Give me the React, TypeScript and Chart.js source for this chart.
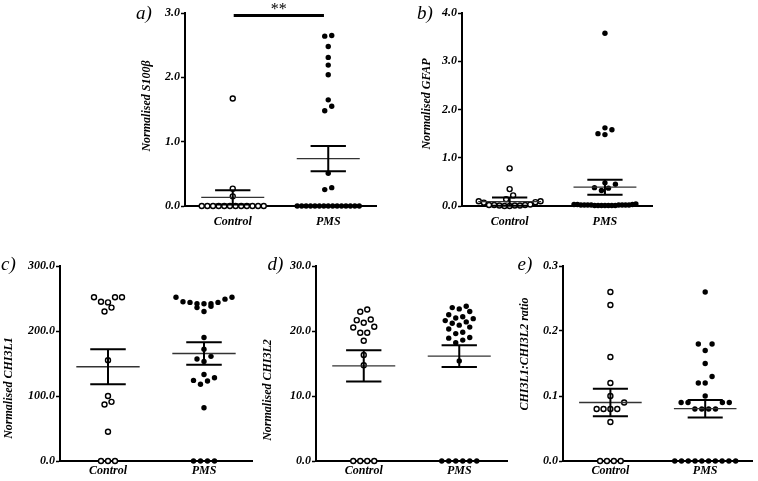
import React, { useEffect, useRef } from 'react';
import { Chart, registerables } from 'chart.js';

Chart.register(...registerables);

// ---------------- data ----------------
const categories = ['Control', 'PMS'];

// a) S100β
const s100bControl = [0, 0, 0, 0, 0, 0, 0, 0, 0, 0, 0, 0, 0.15, 0.27, 1.67];
const s100bPMS = [0, 0, 0, 0, 0, 0, 0, 0, 0, 0, 0, 0, 0, 0, 0, 0.255, 0.285, 0.51, 1.48, 1.55, 1.65, 2.04, 2.19, 2.31, 2.48, 2.64, 2.65];
const s100bMean = [0.135, 0.737];
const s100bSEM = [0.11, 0.197];
const s100bTicks = [0, 1, 2, 3];

// b) GFAP
const gfapControl = [0.01, 0.02, 0, 0.02, 0.01, 0.03, 0, 0.02, 0.01, 0.07, 0.08, 0.1, 0.1, 0.14, 0.22, 0.35, 0.78];
const gfapPMS = [0.03, 0.02, 0.02, 0.01, 0.02, 0.01, 0.01, 0.02, 0.03, 0.01, 0.02, 0.01, 0.02, 0.01, 0.03, 0.02, 0.01, 0.02, 0.04, 0.32, 0.37, 0.38, 0.45, 0.48, 1.48, 1.5, 1.58, 1.62, 3.58];
const gfapMean = [0.09, 0.39];
const gfapSEM = [0.085, 0.155];
const gfapTicks = [0, 1, 2, 3, 4];

// c) CHI3L1
const chi3l1Control = [0, 0, 0, 45, 87, 91, 100, 155, 230, 236, 244, 245, 252, 252, 252];
const chi3l1PMS = [0, 0, 0, 0, 82, 118, 123, 124, 128, 133, 153, 157, 161, 172, 190, 230, 236, 238, 242, 242, 242, 244, 244, 245, 249, 252, 252];
const chi3l1Mean = [145, 165.4];
const chi3l1SEM = [27, 17.2];
const chi3l1Ticks = [0, 100, 200, 300];

// d) CHI3L2
const chi3l2Control = [0, 0, 0, 0, 14.74, 16.3, 18.49, 19.72, 19.72, 20.55, 20.65, 21.26, 21.67, 21.78, 22.96, 23.3];
const chi3l2PMS = [0, 0, 0, 0, 0, 0, 15.4, 18.2, 18.6, 18.9, 19.0, 19.6, 19.8, 20.3, 20.6, 20.9, 21.2, 21.4, 21.6, 21.9, 22.0, 22.2, 22.5, 23.0, 23.4, 23.6, 23.8];
const chi3l2Mean = [14.65, 16.15];
const chi3l2SEM = [2.4, 1.67];
const chi3l2Ticks = [0, 10, 20, 30];

// e) CHI3L1:CHI3L2 ratio
const ratioControl = [0, 0, 0, 0, 0.06, 0.08, 0.08, 0.08, 0.08, 0.09, 0.1, 0.12, 0.16, 0.24, 0.26];
const ratioPMS = [0, 0, 0, 0, 0, 0, 0, 0, 0, 0, 0.08, 0.08, 0.08, 0.08, 0.09, 0.09, 0.09, 0.09, 0.1, 0.12, 0.12, 0.13, 0.15, 0.17, 0.18, 0.18, 0.26];
const ratioMean = [0.09, 0.0805];
const ratioSEM = [0.021, 0.0135];
const ratioTicks = [0, 0.1, 0.2, 0.3];

// significance annotation (panel a)
const sigFrom = 1.01;
const sigTo = 1.955;
const sigLevel = 2.96;
const sigLabel = '**';

// ---------------- layout / style ----------------
const FONT = '"Liberation Serif", "Times New Roman", serif';
const ROW_H = 6.6; // px: points closer than this vertically share a row
const ROW_W = 62; // px: max row width
const MAX_GAP = 7; // px: max horizontal gap between row members
const MEAN_HW = 0.33; // x units
const CAP_HW = 0.185; // x units

type Panel = {
  key: string;
  letter: string;
  title: string;
  control: number[];
  pms: number[];
  mean: number[];
  sem: number[];
  ticks: number[];
  box: { x: number; y: number; w: number; h: number };
  area: { L: number; T: number; R: number; B: number };
  xPad: number;
  letterOff: [number, number];
  titleOff: [number, number];
  sig?: boolean;
};

const panels: Panel[] = [
  {
    key: 'a', letter: 'a)', title: 'Normalised S100β',
    control: s100bControl, pms: s100bPMS, mean: s100bMean, sem: s100bSEM, ticks: s100bTicks,
    box: { x: 120, y: 0, w: 275, h: 235 }, area: { L: 185, T: 13, R: 376, B: 206 },
    xPad: 9, letterOff: [-41, 1], titleOff: [-38, 93], sig: true,
  },
  {
    key: 'b', letter: 'b)', title: 'Normalised GFAP',
    control: gfapControl, pms: gfapPMS, mean: gfapMean, sem: gfapSEM, ticks: gfapTicks,
    box: { x: 395, y: 0, w: 263, h: 235 }, area: { L: 462, T: 13, R: 653, B: 206 },
    xPad: 9, letterOff: [-37, 1], titleOff: [-35.5, 91],
  },
  {
    key: 'c', letter: 'c)', title: 'Normalised CHI3L1',
    control: chi3l1Control, pms: chi3l1PMS, mean: chi3l1Mean, sem: chi3l1SEM, ticks: chi3l1Ticks,
    box: { x: 0, y: 245, w: 258, h: 236 }, area: { L: 60, T: 266, R: 252, B: 461 },
    xPad: 3, letterOff: [-51.5, -1], titleOff: [-51.5, 122],
  },
  {
    key: 'd', letter: 'd)', title: 'Normalised CHI3L2',
    control: chi3l2Control, pms: chi3l2PMS, mean: chi3l2Mean, sem: chi3l2SEM, ticks: chi3l2Ticks,
    box: { x: 258, y: 245, w: 255, h: 236 }, area: { L: 316, T: 266, R: 507, B: 461 },
    xPad: 3, letterOff: [-40.5, -1], titleOff: [-48.5, 124],
  },
  {
    key: 'e', letter: 'e)', title: 'CHI3L1:CHI3L2 ratio',
    control: ratioControl, pms: ratioPMS, mean: ratioMean, sem: ratioSEM, ticks: ratioTicks,
    box: { x: 513, y: 245, w: 245, h: 236 }, area: { L: 563, T: 266, R: 756, B: 461 },
    xPad: 3, letterOff: [-38, -1], titleOff: [-38, 88],
  },
];

const Y_AXIS_W = 40;

// Prism-like column scatter: rows of nearby values spread horizontally
function columnPoints(values: number[], group: number, chart: any) {
  const xs = chart.scales.x;
  const ys = chart.scales.y;
  const cx = xs.getPixelForValue(group);
  const pts = values.map((v) => ({ v, py: ys.getPixelForValue(v) })).sort((a, b) => a.v - b.v);
  const out: { x: number; y: number }[] = [];
  let i = 0;
  while (i < pts.length) {
    const row = [pts[i]];
    let j = i + 1;
    while (j < pts.length && pts[i].py - pts[j].py < ROW_H) {
      row.push(pts[j]);
      j++;
    }
    const k = row.length;
    const s = k > 1 ? Math.min(MAX_GAP, ROW_W / (k - 1)) : 0;
    const slots = Array.from({ length: k }, (_, m) => (m - (k - 1) / 2) * s).sort(
      (a, b) => Math.abs(a) - Math.abs(b) || a - b
    );
    row.forEach((p, m) => out.push({ x: xs.getValueForPixel(cx + slots[m]), y: p.v }));
    i = j;
  }
  return out;
}

function makeDecor(p: Panel) {
  return {
    id: 'decor_' + p.key,
    afterDatasetsDraw(chart: any) {
      const { ctx, chartArea, scales } = chart;
      const xs = scales.x;
      const ys = scales.y;
      ctx.save();
      // mean ± SEM
      [1, 2].forEach((g, gi) => {
        const m = p.mean[gi];
        const se = p.sem[gi];
        const xc = xs.getPixelForValue(g);
        const ym = ys.getPixelForValue(m);
        const yu = ys.getPixelForValue(m + se);
        const yl = ys.getPixelForValue(Math.max(0, m - se));
        ctx.lineCap = 'butt';
        ctx.strokeStyle = '#333';
        ctx.lineWidth = 1.3;
        ctx.beginPath();
        ctx.moveTo(xs.getPixelForValue(g - MEAN_HW), ym);
        ctx.lineTo(xs.getPixelForValue(g + MEAN_HW), ym);
        ctx.stroke();
        ctx.strokeStyle = '#000';
        ctx.lineWidth = 2;
        ctx.beginPath();
        ctx.moveTo(xc, yu);
        ctx.lineTo(xc, yl);
        ctx.moveTo(xs.getPixelForValue(g - CAP_HW), yu);
        ctx.lineTo(xs.getPixelForValue(g + CAP_HW), yu);
        ctx.moveTo(xs.getPixelForValue(g - CAP_HW), yl);
        ctx.lineTo(xs.getPixelForValue(g + CAP_HW), yl);
        ctx.stroke();
      });
      // significance bar
      if (p.sig) {
        const yb = ys.getPixelForValue(sigLevel);
        const x1 = xs.getPixelForValue(sigFrom);
        const x2 = xs.getPixelForValue(sigTo);
        ctx.strokeStyle = '#000';
        ctx.lineWidth = 3;
        ctx.beginPath();
        ctx.moveTo(x1, yb);
        ctx.lineTo(x2, yb);
        ctx.stroke();
        ctx.fillStyle = '#000';
        ctx.font = '16px ' + FONT;
        ctx.textAlign = 'center';
        ctx.textBaseline = 'alphabetic';
        ctx.fillText(sigLabel, (x1 + x2) / 2, yb - 2);
      }
      // panel letter
      ctx.fillStyle = '#000';
      ctx.font = 'italic 19px ' + FONT;
      ctx.textAlign = 'center';
      ctx.textBaseline = 'middle';
      ctx.fillText(p.letter, chartArea.left + p.letterOff[0], chartArea.top + p.letterOff[1]);
      // y title
      ctx.font = 'italic bold 12px ' + FONT;
      ctx.translate(chartArea.left + p.titleOff[0], chartArea.top + p.titleOff[1]);
      ctx.rotate(-Math.PI / 2);
      ctx.fillText(p.title, 0, 0);
      ctx.restore();
    },
  };
}

function PanelChart({ p }: { p: Panel }) {
  const ref = useRef<HTMLCanvasElement>(null);
  useEffect(() => {
    const canvas = ref.current!;
    const padL = p.area.L - p.box.x - Y_AXIS_W;
    const padT = p.area.T - p.box.y;
    const padR = p.box.x + p.box.w - p.area.R;
    const xH = p.box.y + p.box.h - p.area.B;
    const tickFont = { family: FONT, size: 12, style: 'italic' as const, weight: 'bold' as const };
    const chart = new Chart(canvas, {
      type: 'scatter',
      data: {
        datasets: [
          {
            label: categories[0],
            data: [],
            pointRadius: 2.5,
            pointBorderWidth: 1.4,
            pointBackgroundColor: '#fff',
            pointBorderColor: '#000',
            showLine: false,
            clip: false as any,
          },
          {
            label: categories[1],
            data: [],
            pointRadius: 2.7,
            pointBorderWidth: 0,
            pointBackgroundColor: '#000',
            pointBorderColor: '#000',
            showLine: false,
            clip: false as any,
          },
        ],
      },
      options: {
        animation: false,
        responsive: false,
        devicePixelRatio: 1,
        events: [],
        layout: { padding: { left: padL, top: padT, right: padR, bottom: 0 } },
        plugins: { legend: { display: false }, tooltip: { enabled: false }, title: { display: false } },
        scales: {
          x: {
            type: 'linear',
            min: 0.5,
            max: 2.5,
            afterBuildTicks: (s: any) => {
              s.ticks = [{ value: 1 }, { value: 2 }];
            },
            afterFit: (s: any) => {
              s.height = xH;
            },
            ticks: {
              callback: (v: any) => categories[Math.round(Number(v)) - 1] ?? '',
              font: tickFont,
              color: '#000',
              padding: p.xPad,
              maxRotation: 0,
              autoSkip: false,
            },
            grid: { display: false, drawTicks: false },
            border: { display: true, color: '#000', width: 2 },
          },
          y: {
            type: 'linear',
            min: p.ticks[0],
            max: p.ticks[p.ticks.length - 1],
            afterBuildTicks: (s: any) => {
              s.ticks = p.ticks.map((v) => ({ value: v }));
            },
            afterFit: (s: any) => {
              s.width = Y_AXIS_W;
            },
            ticks: {
              callback: (v: any) => Number(v).toFixed(1),
              font: tickFont,
              color: '#000',
              padding: 1,
              autoSkip: false,
            },
            grid: {
              display: true,
              drawOnChartArea: false,
              drawTicks: true,
              tickLength: 4,
              tickColor: '#000',
              tickWidth: 1.5,
              color: '#000',
            },
            border: { display: true, color: '#000', width: 2 },
          },
        },
      } as any,
      plugins: [makeDecor(p)],
    });
    chart.data.datasets[0].data = columnPoints(p.control, 1, chart) as any;
    chart.data.datasets[1].data = columnPoints(p.pms, 2, chart) as any;
    chart.update('none');
    return () => chart.destroy();
  }, [p]);
  return (
    <canvas
      ref={ref}
      width={p.box.w}
      height={p.box.h}
      style={{ position: 'absolute', left: p.box.x, top: p.box.y, width: p.box.w, height: p.box.h }}
    />
  );
}

export default function App() {
  return (
    <div style={{ position: 'absolute', left: 0, top: 0, width: 758, height: 481, background: '#fff', overflow: 'hidden' }}>
      {panels.map((p) => (
        <PanelChart key={p.key} p={p} />
      ))}
    </div>
  );
}
